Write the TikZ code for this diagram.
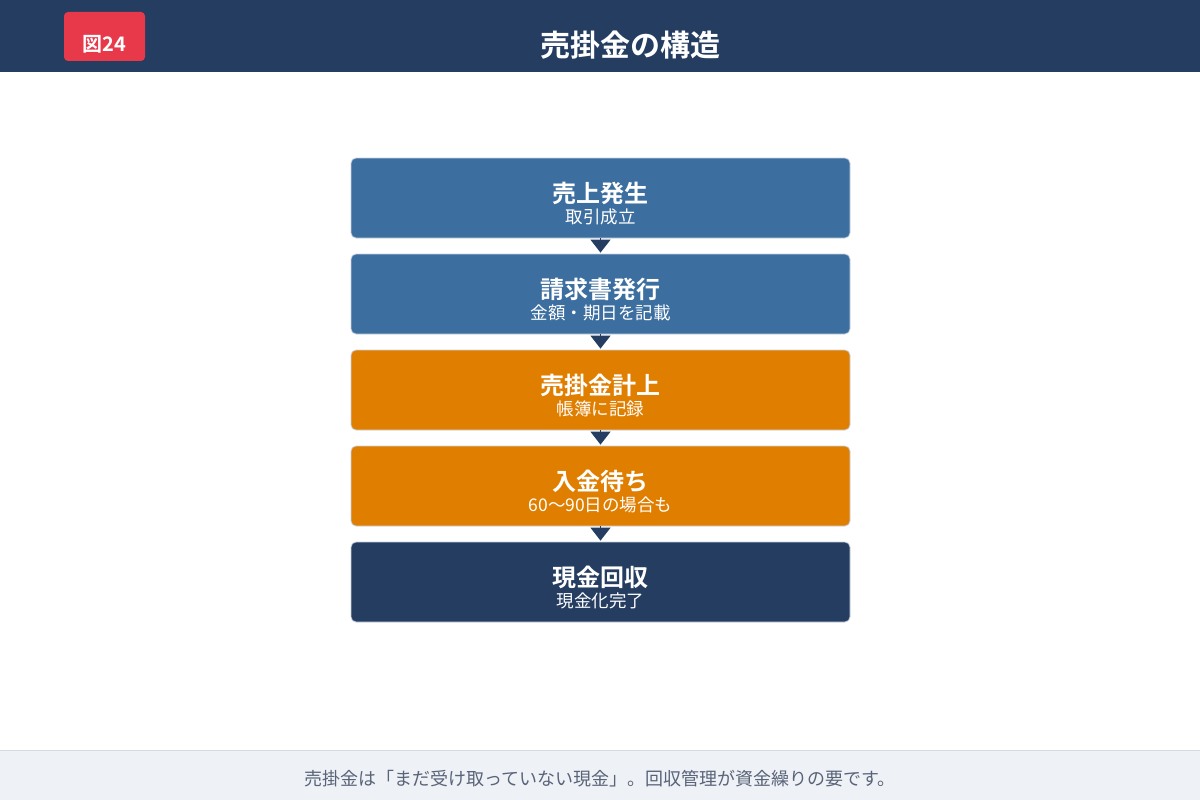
\documentclass[tikz,border=0pt]{standalone}
\usepackage{fontspec}
\setmainfont{Noto Sans CJK JP}[BoldFont={Noto Sans CJK JP Bold}]
\usetikzlibrary{arrows.meta}
\definecolor{navy}{HTML}{243D61}
\definecolor{badge}{HTML}{E8394A}
\definecolor{stepblue}{HTML}{3C6E9F}
\definecolor{steporange}{HTML}{E07E00}
\definecolor{footbg}{HTML}{EEF1F6}
\definecolor{footline}{HTML}{D5DAE3}
\definecolor{foottext}{HTML}{5A6478}
\definecolor{boxedge}{HTML}{C9D3E0}
\begin{document}
\begin{tikzpicture}[x=1pt,y=-1pt,
  stepbox/.style={draw=boxedge,line width=0.8pt,rounded corners=5pt,minimum width=499pt,minimum height=80pt,inner sep=0pt,text=white,align=center},
  conn/.style={draw=navy,line width=1pt,-{Triangle[width=20pt,length=13pt]},shorten >=1pt}]
\useasboundingbox (0,0) rectangle (1200,800);
\fill[white] (0,0) rectangle (1200,800);
% header
\fill[navy] (0,0) rectangle (1200,72);
\node[fill=badge,rounded corners=4pt,minimum width=81pt,minimum height=49pt,inner sep=0pt] (badge) at (104.5,36.5) {};
\node[text=white,font=\bfseries\fontsize{20}{22}\selectfont] (badgetext) at (104.5,44) {図24};
\node[text=white,font=\bfseries\fontsize{30}{34}\selectfont] (title) at (630,45) {売掛金の構造};
% steps
\node[stepbox,fill=stepblue] (s1) at (600.5,198) {};
\node[stepbox,fill=stepblue] (s2) at (600.5,294) {};
\node[stepbox,fill=steporange] (s3) at (600.5,390) {};
\node[stepbox,fill=steporange] (s4) at (600.5,486) {};
\node[stepbox,fill=navy] (s5) at (600.5,582) {};
\foreach \n/\a/\b in {s1/売上発生/取引成立,s2/請求書発行/金額・期日を記載,s3/売掛金計上/帳簿に記録,s4/入金待ち/60〜90日の場合も,s5/現金回収/現金化完了}{
  \node[text=white,font=\bfseries\fontsize{24}{28}\selectfont] (\n t) at ([yshift=5pt]\n.center) {\a};
  \node[text=white,font=\fontsize{17.5}{20}\selectfont] (\n s) at ([yshift=-19pt]\n.center) {\b};
}
\draw[conn] (s1.south) -- (s2.north);
\draw[conn] (s2.south) -- (s3.north);
\draw[conn] (s3.south) -- (s4.north);
\draw[conn] (s4.south) -- (s5.north);
% footer
\fill[footbg] (0,750) rectangle (1200,800);
\draw[footline,line width=1pt] (0,750) -- (1200,750);
\node[text=foottext,font=\fontsize{18}{21}\selectfont] (foot) at (600,779) {売掛金は「まだ受け取っていない現金」。回収管理が資金繰りの要です。};
\end{tikzpicture}
\end{document}
